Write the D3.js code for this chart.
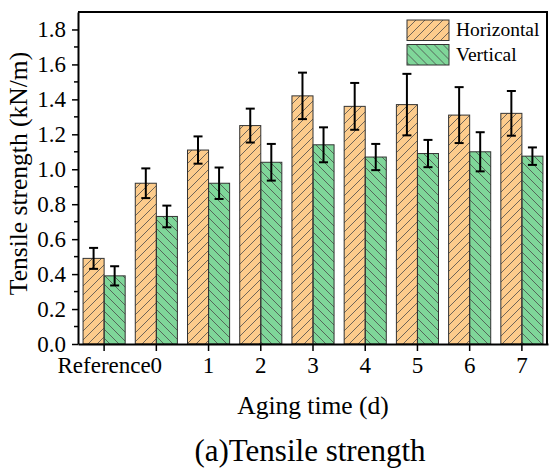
<!DOCTYPE html>
<html>
<head>
<meta charset="utf-8">
<script src="https://cdn.jsdelivr.net/npm/d3@7"></script>
<style>
  body { margin: 0; background: #fff; }
</style>
</head>
<body>
<div class="content"></div>
<script>
//--> Data
const categories = ["Reference", "0", "1", "2", "3", "4", "5", "6", "7"];
const seriesNames = ["Horizontal", "Vertical"];
const horizontal = [0.49, 0.92, 1.11, 1.25, 1.42, 1.36, 1.37, 1.31, 1.32];
const horizontalErr = [0.06, 0.085, 0.078, 0.097, 0.133, 0.134, 0.176, 0.16, 0.128];
const vertical = [0.39, 0.73, 0.92, 1.04, 1.14, 1.07, 1.09, 1.1, 1.075];
const verticalErr = [0.055, 0.062, 0.09, 0.105, 0.1, 0.075, 0.078, 0.112, 0.05];
const yTicks = [0, 0.2, 0.4, 0.6, 0.8, 1.0, 1.2, 1.4, 1.6, 1.8];
const yMinorTicks = [0.1, 0.3, 0.5, 0.7, 0.9, 1.1, 1.3, 1.5, 1.7];

//--> Set up main elements
const width = 549;
const height = 469;
const margin = { top: 12, right: 1, bottom: 125, left: 78 };
const serif = '"Liberation Serif"';

const fills = { Horizontal: "#fdcc8c", Vertical: "#7fd699" };

const svg = d3
  .select(".content")
  .append("svg")
  .attr("width", width)
  .attr("height", height)
  .attr("font-family", "Liberation Serif");

//--> Hatch patterns
const defs = svg.append("defs");
const hatch = [
  { id: "hatch-Horizontal", d: "M0,9L9,0M-2,2L2,-2M7,11L11,7" },
  { id: "hatch-Vertical", d: "M0,0L9,9M-2,7L2,11M7,-2L11,2" },
];
hatch.forEach(h => {
  const p = defs
    .append("pattern")
    .attr("id", h.id)
    .attr("patternUnits", "userSpaceOnUse")
    .attr("width", 9)
    .attr("height", 9);
  p.append("path")
    .attr("d", h.d)
    .attr("stroke", "#4a4a4a")
    .attr("stroke-width", 0.8)
    .attr("fill", "none");
});

//--> Scales
const x = d3
  .scaleBand()
  .domain(categories)
  .range([margin.left, width - margin.right])
  .padding(0);

const xSub = d3
  .scaleBand()
  .domain(seriesNames)
  .range([0, x.bandwidth()])
  .paddingInner(0)
  .paddingOuter(0.24);

const y = d3
  .scaleLinear()
  .domain([0, 1.9])
  .range([height - margin.bottom, margin.top]);

//--> Table for bars
const rows = categories.flatMap((c, i) => [
  { cat: c, key: "Horizontal", value: horizontal[i], err: horizontalErr[i] },
  { cat: c, key: "Vertical", value: vertical[i], err: verticalErr[i] },
]);

//--> Bars: colour fill then hatch then outline
const bars = svg.append("g");
bars
  .selectAll("rect.fill")
  .data(rows)
  .join("rect")
  .attr("class", "fill")
  .attr("x", d => x(d.cat) + xSub(d.key))
  .attr("y", d => y(d.value))
  .attr("width", xSub.bandwidth())
  .attr("height", d => y(0) - y(d.value))
  .attr("fill", d => fills[d.key]);

bars
  .selectAll("rect.hatch")
  .data(rows)
  .join("rect")
  .attr("class", "hatch")
  .attr("x", d => x(d.cat) + xSub(d.key))
  .attr("y", d => y(d.value))
  .attr("width", xSub.bandwidth())
  .attr("height", d => y(0) - y(d.value))
  .attr("fill", d => `url(#hatch-${d.key})`)
  .attr("stroke", "#333")
  .attr("stroke-width", 1);

//--> Error bars
const capHalf = 4.5;
const err = svg
  .append("g")
  .attr("stroke", "#000")
  .attr("stroke-width", 2)
  .selectAll("g")
  .data(rows)
  .join("g")
  .attr("transform", d => `translate(${x(d.cat) + xSub(d.key) + xSub.bandwidth() / 2},0)`);

err
  .append("line")
  .attr("y1", d => y(d.value + d.err))
  .attr("y2", d => y(d.value - d.err));
err
  .append("line")
  .attr("x1", -capHalf)
  .attr("x2", capHalf)
  .attr("y1", d => y(d.value + d.err))
  .attr("y2", d => y(d.value + d.err));
err
  .append("line")
  .attr("x1", -capHalf)
  .attr("x2", capHalf)
  .attr("y1", d => y(d.value - d.err))
  .attr("y2", d => y(d.value - d.err));

//--> Axes
const xAxis = svg
  .append("g")
  .attr("transform", `translate(0,${y(0)})`)
  .call(d3.axisBottom(x).tickSize(7).tickSizeOuter(0).tickPadding(6));

const yAxis = svg
  .append("g")
  .attr("transform", `translate(${margin.left},0)`)
  .call(
    d3
      .axisLeft(y)
      .tickValues(yTicks)
      .tickFormat(d3.format(".1f"))
      .tickSize(6)
      .tickSizeOuter(0)
      .tickPadding(6)
  );

yAxis
  .selectAll(".minor")
  .data(yMinorTicks)
  .join("line")
  .attr("class", "minor")
  .attr("x1", -4)
  .attr("x2", 0)
  .attr("y1", d => y(d))
  .attr("y2", d => y(d))
  .attr("stroke", "#000")
  .attr("stroke-width", 1.5);

[xAxis, yAxis].forEach(a => {
  a.attr("font-family", "Liberation Serif").attr("font-size", 23);
  a.selectAll(".domain").attr("stroke-width", 2);
  a.selectAll(".tick line").attr("stroke-width", 1.5);
  a.selectAll("text")
    .attr("fill", "#000")
    .style("font-family", serif)
    .style("font-size", "23px");
});

//--> Top and right frame
svg
  .append("path")
  .attr(
    "d",
    `M${margin.left},${margin.top}H${width - margin.right - 1}V${y(0)}`
  )
  .attr("fill", "none")
  .attr("stroke", "#000")
  .attr("stroke-width", 2);

//--> Axis titles and caption
svg
  .append("text")
  .attr("transform", `translate(27,${173.5}) rotate(-90)`)
  .attr("text-anchor", "middle")
  .style("font-family", serif)
  .style("font-size", "25.5px")
  .text("Tensile strength (kN/m)");

svg
  .append("text")
  .attr("x", (margin.left + width - margin.right) / 2)
  .attr("y", 414)
  .attr("text-anchor", "middle")
  .style("font-family", serif)
  .style("font-size", "25.5px")
  .text("Aging time (d)");

svg
  .append("text")
  .attr("x", 310)
  .attr("y", 461)
  .attr("text-anchor", "middle")
  .style("font-family", serif)
  .style("font-size", "31px")
  .text("(a)Tensile strength");

//--> Legend
const legend = svg
  .append("g")
  .selectAll("g")
  .data(seriesNames)
  .join("g")
  .attr("transform", (_, i) => `translate(407,${20 + i * 24.5})`);

legend
  .append("rect")
  .attr("width", 42)
  .attr("height", 20.5)
  .attr("fill", d => fills[d]);
legend
  .append("rect")
  .attr("width", 42)
  .attr("height", 20.5)
  .attr("fill", d => `url(#hatch-${d})`)
  .attr("stroke", "#333")
  .attr("stroke-width", 1);
legend
  .append("text")
  .attr("x", 49)
  .attr("y", 16)
  .style("font-family", serif)
  .style("font-size", "19.5px")
  .text(d => d);
</script>
</body>
</html>
